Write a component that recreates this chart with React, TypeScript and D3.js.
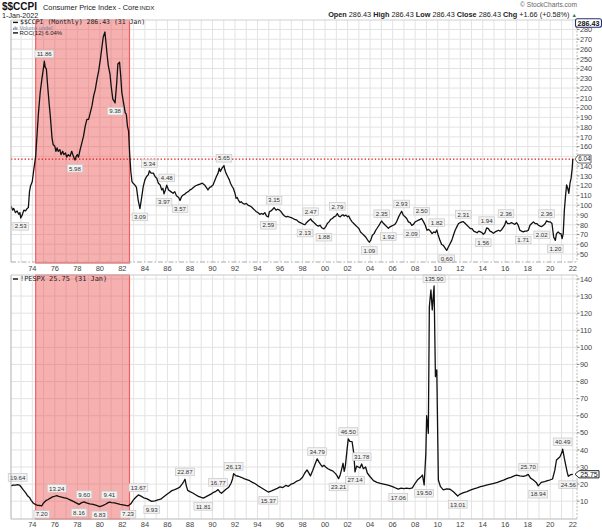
import React from 'react';
import * as d3 from 'd3';

// ROC(12) of $$CCPI (percent), [decimal year, value]
const rocSeries: [number, number][] = [
  [1972.1, 3.25], [1972.25, 3.0], [1972.35, 3.1], [1972.5, 2.85], [1972.65, 2.95], [1972.8, 2.75], [1972.9, 2.85],
  [1972.97, 2.53], [1973.1, 2.7], [1973.25, 3.0], [1973.4, 2.95], [1973.55, 3.1], [1973.65, 3.15], [1973.75, 4.1],
  [1973.85, 4.45], [1974.0, 4.7], [1974.15, 5.5], [1974.3, 6.2], [1974.45, 7.8], [1974.55, 8.8], [1974.7, 10.0],
  [1974.85, 10.8], [1975.0, 11.5], [1975.07, 11.86], [1975.15, 11.5], [1975.25, 11.4], [1975.35, 10.5], [1975.5, 9.3],
  [1975.6, 8.6], [1975.75, 7.3], [1975.85, 6.9], [1976.0, 6.8], [1976.1, 6.5], [1976.2, 6.7], [1976.3, 6.5],
  [1976.45, 6.6], [1976.55, 6.3], [1976.7, 6.5], [1976.8, 6.3], [1976.95, 6.4], [1977.05, 6.15], [1977.2, 6.3],
  [1977.35, 6.2], [1977.5, 6.5], [1977.6, 6.3], [1977.79, 5.98], [1977.9, 6.2], [1978.0, 6.3], [1978.1, 6.15],
  [1978.25, 6.6], [1978.4, 7.0], [1978.55, 7.4], [1978.7, 8.0], [1978.85, 8.4], [1979.0, 8.4], [1979.15, 8.8],
  [1979.3, 9.2], [1979.45, 9.8], [1979.6, 10.2], [1979.75, 10.8], [1979.9, 11.3], [1980.05, 12.0], [1980.2, 12.8],
  [1980.3, 13.3], [1980.45, 13.6], [1980.55, 12.9], [1980.65, 12.2], [1980.75, 11.6], [1980.9, 11.1], [1981.0, 10.4],
  [1981.15, 9.6], [1981.25, 9.5], [1981.35, 9.38], [1981.5, 10.6], [1981.6, 11.7], [1981.75, 11.8], [1981.85, 11.0],
  [1981.95, 10.0], [1982.1, 9.4], [1982.25, 8.8], [1982.35, 8.7], [1982.45, 8.0], [1982.55, 7.7], [1982.65, 6.3],
  [1982.75, 5.3], [1982.85, 4.7], [1982.95, 4.6], [1983.1, 4.5], [1983.25, 4.35], [1983.4, 3.6], [1983.56, 3.09],
  [1983.7, 3.7], [1983.85, 4.4], [1984.0, 4.8], [1984.15, 5.0], [1984.3, 5.1], [1984.4, 5.34], [1984.55, 5.2],
  [1984.75, 5.2], [1984.9, 5.0], [1985.05, 4.9], [1985.2, 4.6], [1985.35, 4.5], [1985.5, 4.2], [1985.6, 4.3],
  [1985.7, 3.97], [1985.82, 4.2], [1985.94, 4.48], [1986.1, 4.2], [1986.3, 4.1], [1986.5, 4.0], [1986.65, 4.1],
  [1986.8, 3.85], [1987.0, 3.75], [1987.12, 3.57], [1987.25, 3.8], [1987.4, 3.9], [1987.55, 3.95], [1987.7, 4.05],
  [1987.85, 4.1], [1988.0, 4.2], [1988.15, 4.25], [1988.3, 4.35], [1988.5, 4.45], [1988.7, 4.5], [1988.9, 4.55],
  [1989.1, 4.6], [1989.3, 4.5], [1989.45, 4.35], [1989.6, 4.2], [1989.75, 4.35], [1989.9, 4.4], [1990.05, 4.5],
  [1990.2, 4.75], [1990.35, 5.0], [1990.5, 5.2], [1990.6, 5.5], [1990.7, 5.3], [1990.85, 5.5], [1991.02, 5.65],
  [1991.1, 5.4], [1991.2, 5.2], [1991.35, 5.0], [1991.5, 4.8], [1991.6, 4.6], [1991.75, 4.4], [1991.85, 4.3],
  [1992.0, 4.0], [1992.1, 3.7], [1992.2, 3.75], [1992.3, 3.6], [1992.45, 3.45], [1992.55, 3.5], [1992.7, 3.4],
  [1992.85, 3.35], [1993.0, 3.4], [1993.15, 3.3], [1993.3, 3.25], [1993.45, 3.2], [1993.6, 3.1], [1993.75, 3.0],
  [1993.9, 2.9], [1994.05, 2.85], [1994.2, 2.75], [1994.35, 2.8], [1994.5, 2.75], [1994.65, 2.85], [1994.8, 2.65],
  [1994.96, 2.59], [1995.05, 2.9], [1995.2, 2.95], [1995.35, 3.05], [1995.47, 3.15], [1995.65, 3.0], [1995.8, 3.05],
  [1995.95, 3.0], [1996.1, 2.9], [1996.25, 2.75], [1996.4, 2.65], [1996.55, 2.6], [1996.7, 2.62], [1996.85, 2.58],
  [1997.0, 2.55], [1997.15, 2.5], [1997.3, 2.45], [1997.5, 2.4], [1997.65, 2.3], [1997.8, 2.25], [1997.95, 2.2],
  [1998.1, 2.15], [1998.22, 2.13], [1998.35, 2.25], [1998.5, 2.35], [1998.72, 2.47], [1998.85, 2.35], [1998.95, 2.3],
  [1999.1, 2.2], [1999.25, 2.1], [1999.4, 2.05], [1999.55, 2.1], [1999.7, 1.95], [1999.9, 1.88], [2000.05, 2.0],
  [2000.2, 2.2], [2000.35, 2.3], [2000.5, 2.45], [2000.65, 2.5], [2000.8, 2.6], [2000.95, 2.65], [2001.09, 2.79],
  [2001.2, 2.65], [2001.35, 2.6], [2001.5, 2.7], [2001.6, 2.72], [2001.7, 2.65], [2001.85, 2.7], [2002.0, 2.6],
  [2002.1, 2.65], [2002.25, 2.45], [2002.4, 2.3], [2002.55, 2.2], [2002.7, 2.1], [2002.85, 2.0], [2003.0, 1.9],
  [2003.15, 1.7], [2003.3, 1.6], [2003.45, 1.5], [2003.6, 1.4], [2003.75, 1.25], [2003.85, 1.15], [2003.93, 1.09],
  [2004.05, 1.2], [2004.2, 1.5], [2004.35, 1.6], [2004.5, 1.8], [2004.65, 1.95], [2004.8, 2.1], [2004.92, 2.25],
  [2005.03, 2.35], [2005.2, 2.2], [2005.35, 2.1], [2005.5, 2.0], [2005.62, 1.92], [2005.75, 2.0], [2005.9, 2.05],
  [2006.05, 2.1], [2006.2, 2.15], [2006.35, 2.3], [2006.5, 2.55], [2006.65, 2.75], [2006.8, 2.93], [2006.95, 2.7],
  [2007.1, 2.6], [2007.25, 2.5], [2007.4, 2.3], [2007.55, 2.25], [2007.7, 2.09], [2007.85, 2.15], [2008.0, 2.3],
  [2008.15, 2.35], [2008.3, 2.4], [2008.45, 2.45], [2008.58, 2.5], [2008.75, 2.3], [2008.9, 2.1], [2009.05, 1.8],
  [2009.2, 1.85], [2009.35, 1.75], [2009.5, 1.6], [2009.65, 1.7], [2009.8, 1.65], [2009.92, 1.82], [2010.05, 1.5],
  [2010.2, 1.2], [2010.35, 0.95], [2010.5, 0.9], [2010.65, 0.75], [2010.8, 0.6], [2010.95, 0.8], [2011.1, 1.0],
  [2011.25, 1.2], [2011.4, 1.5], [2011.55, 1.8], [2011.7, 2.0], [2011.85, 2.2], [2012.0, 2.25], [2012.15, 2.3],
  [2012.28, 2.31], [2012.45, 2.2], [2012.6, 2.1], [2012.75, 2.0], [2012.9, 1.9], [2013.05, 1.9], [2013.2, 1.75],
  [2013.35, 1.7], [2013.5, 1.65], [2013.65, 1.75], [2013.8, 1.7], [2013.95, 1.65], [2014.05, 1.56], [2014.2, 1.65],
  [2014.35, 1.94], [2014.5, 1.9], [2014.65, 1.75], [2014.8, 1.7], [2014.95, 1.62], [2015.1, 1.7], [2015.25, 1.75],
  [2015.4, 1.8], [2015.55, 1.75], [2015.7, 1.85], [2015.85, 2.0], [2015.95, 2.1], [2016.07, 2.36], [2016.2, 2.2],
  [2016.4, 2.2], [2016.55, 2.25], [2016.7, 2.2], [2016.85, 2.15], [2017.0, 2.25], [2017.15, 2.1], [2017.3, 1.8],
  [2017.45, 1.75], [2017.6, 1.71], [2017.75, 1.75], [2017.9, 1.75], [2018.05, 1.8], [2018.2, 2.1], [2018.35, 2.2],
  [2018.5, 2.3], [2018.65, 2.2], [2018.8, 2.2], [2018.95, 2.1], [2019.1, 2.05], [2019.24, 2.02], [2019.4, 2.1],
  [2019.55, 2.2], [2019.67, 2.36], [2019.85, 2.3], [2020.0, 2.3], [2020.15, 2.2], [2020.3, 1.4], [2020.45, 1.2],
  [2020.55, 1.6], [2020.7, 1.7], [2020.85, 1.6], [2020.95, 1.6], [2021.05, 1.3], [2021.15, 1.6], [2021.25, 3.0],
  [2021.35, 3.8], [2021.45, 4.5], [2021.55, 4.3], [2021.65, 4.0], [2021.75, 4.6], [2021.85, 4.9], [2021.95, 5.5],
  [2022.0, 6.04],
];

// !PESPX (S&P 500 P/E ratio), [decimal year, value]
const peSeries: [number, number][] = [
  [1972.1, 19.0], [1972.3, 19.4], [1972.5, 19.4], [1972.7, 19.64], [1972.9, 19.2], [1973.05, 18.0], [1973.2, 16.6],
  [1973.4, 15.0], [1973.6, 13.0], [1973.75, 12.2], [1973.9, 10.5], [1974.1, 8.8], [1974.3, 8.0], [1974.5, 7.6],
  [1974.65, 7.5], [1974.83, 7.2], [1975.0, 9.0], [1975.2, 10.3], [1975.4, 11.0], [1975.6, 11.8], [1975.8, 12.5],
  [1976.0, 12.9], [1976.17, 13.24], [1976.35, 12.8], [1976.6, 12.4], [1976.85, 12.0], [1977.1, 11.6], [1977.35, 10.8],
  [1977.6, 10.0], [1977.85, 9.2], [1978.15, 8.16], [1978.35, 9.0], [1978.6, 9.6], [1978.8, 9.0], [1979.1, 8.5],
  [1979.4, 8.2], [1979.7, 7.6], [1979.98, 6.83], [1980.25, 7.4], [1980.5, 8.2], [1980.7, 9.0], [1980.84, 9.41],
  [1981.05, 9.2], [1981.3, 9.0], [1981.55, 8.6], [1981.8, 8.2], [1982.05, 7.9], [1982.3, 7.5], [1982.5, 7.23],
  [1982.75, 8.5], [1982.95, 10.5], [1983.15, 12.0], [1983.42, 13.67], [1983.65, 13.0], [1983.9, 12.0],
  [1984.15, 11.5], [1984.4, 10.6], [1984.6, 9.93], [1984.9, 10.2], [1985.15, 10.8], [1985.4, 11.2], [1985.65, 12.5],
  [1985.9, 13.8], [1986.15, 15.0], [1986.4, 16.2], [1986.65, 16.8], [1986.9, 17.5], [1987.1, 18.2], [1987.3, 20.0],
  [1987.45, 21.5], [1987.56, 22.87], [1987.68, 19.0], [1987.8, 16.3], [1988.0, 15.6], [1988.25, 14.8],
  [1988.5, 13.8], [1988.75, 12.8], [1989.0, 12.2], [1989.19, 11.81], [1989.4, 12.5], [1989.65, 13.4],
  [1989.9, 14.3], [1990.1, 15.2], [1990.3, 15.8], [1990.5, 16.77], [1990.65, 15.4], [1990.8, 14.6], [1991.0, 15.8],
  [1991.2, 17.0], [1991.45, 18.2], [1991.65, 20.5], [1991.78, 23.0], [1991.88, 26.13], [1992.05, 25.0],
  [1992.3, 24.6], [1992.55, 24.0], [1992.8, 23.2], [1993.05, 22.6], [1993.3, 22.0], [1993.55, 21.0], [1993.8, 20.2],
  [1994.05, 19.0], [1994.3, 18.0], [1994.55, 17.0], [1994.8, 16.0], [1994.96, 15.37], [1995.25, 16.0],
  [1995.5, 16.8], [1995.75, 17.5], [1996.0, 18.4], [1996.25, 18.0], [1996.5, 19.2], [1996.75, 18.7], [1997.0, 20.0],
  [1997.25, 20.6], [1997.5, 21.8], [1997.75, 22.4], [1998.0, 24.0], [1998.2, 26.5], [1998.4, 28.3], [1998.6, 26.0],
  [1998.7, 24.8], [1998.9, 28.0], [1999.1, 31.5], [1999.3, 34.79], [1999.45, 33.0], [1999.6, 31.5], [1999.75, 30.2],
  [1999.9, 31.0], [2000.05, 30.0], [2000.25, 29.0], [2000.45, 28.3], [2000.7, 27.6], [2000.95, 26.0],
  [2001.1, 24.5], [2001.2, 23.21], [2001.35, 25.5], [2001.5, 29.5], [2001.6, 32.2], [2001.7, 27.5], [2001.8, 30.5],
  [2001.95, 40.0], [2002.06, 46.5], [2002.2, 45.0], [2002.4, 44.8], [2002.55, 38.0], [2002.66, 27.14],
  [2002.8, 30.5], [2002.95, 30.0], [2003.1, 29.5], [2003.25, 31.78], [2003.4, 29.0], [2003.6, 30.0],
  [2003.75, 26.5], [2004.0, 24.3], [2004.3, 22.0], [2004.6, 21.0], [2004.9, 20.5], [2005.2, 20.0], [2005.5, 19.5],
  [2005.8, 19.0], [2006.1, 18.2], [2006.3, 17.6], [2006.5, 17.06], [2006.75, 17.6], [2007.0, 17.4], [2007.25, 17.6],
  [2007.5, 17.4], [2007.75, 17.8], [2008.0, 20.5], [2008.2, 22.4], [2008.45, 23.8], [2008.65, 25.3],
  [2008.8, 19.5], [2008.95, 38.0], [2009.02, 60.0], [2009.1, 55.0], [2009.17, 49.7], [2009.26, 123.8],
  [2009.4, 133.6], [2009.52, 121.9], [2009.68, 135.9], [2009.8, 82.9], [2009.92, 86.8], [2010.06, 22.4],
  [2010.25, 18.5], [2010.5, 16.6], [2010.8, 17.2], [2011.1, 17.0], [2011.4, 15.5], [2011.78, 13.01],
  [2011.95, 14.0], [2012.3, 15.0], [2012.6, 15.6], [2012.9, 16.5], [2013.2, 17.2], [2013.5, 17.8], [2013.8, 18.5],
  [2014.1, 19.0], [2014.4, 19.5], [2014.7, 20.0], [2015.0, 20.5], [2015.3, 21.0], [2015.6, 21.8], [2015.9, 22.5],
  [2016.2, 23.4], [2016.5, 24.0], [2016.8, 24.8], [2017.0, 25.3], [2017.3, 24.8], [2017.6, 24.5], [2017.85, 25.0],
  [2018.04, 25.7], [2018.25, 23.5], [2018.5, 22.4], [2018.75, 21.0], [2018.93, 18.94], [2019.2, 21.0],
  [2019.5, 21.5], [2019.75, 22.0], [2019.95, 22.4], [2020.2, 23.0], [2020.4, 28.0], [2020.55, 34.1],
  [2020.7, 35.0], [2020.86, 36.0], [2021.0, 38.0], [2021.1, 40.49], [2021.25, 35.0], [2021.4, 30.2],
  [2021.5, 27.0], [2021.6, 24.56], [2021.8, 25.5], [2022.0, 25.75],
];

// annotation labels: [date, value, side] side 1 = above (peak), -1 = below (trough)
const rocNotes: [number, number, number][] = [
  [1972.97, 2.53, -1], [1975.07, 11.86, 1], [1977.79, 5.98, -1], [1981.35, 9.38, -1], [1983.56, 3.09, -1],
  [1984.4, 5.34, 1], [1985.94, 4.48, 1], [1985.7, 3.97, -1], [1987.12, 3.57, -1], [1991.02, 5.65, 1],
  [1995.47, 3.15, 1], [1994.96, 2.59, -1], [1998.72, 2.47, 1], [1998.22, 2.13, -1], [2001.09, 2.79, 1],
  [1999.9, 1.88, -1], [2003.93, 1.09, -1], [2005.03, 2.35, 1], [2005.62, 1.92, -1], [2006.8, 2.93, 1],
  [2007.7, 2.09, -1], [2008.58, 2.5, 1], [2009.92, 1.82, 1], [2010.8, 0.6, -1], [2012.28, 2.31, 1],
  [2014.35, 1.94, 1], [2014.05, 1.56, -1], [2016.07, 2.36, 1], [2017.6, 1.71, -1], [2019.67, 2.36, 1],
  [2019.24, 2.02, -1], [2020.45, 1.2, -1],
];
const peNotes: [number, number, number][] = [
  [1972.7, 19.64, 1], [1974.83, 7.2, -1], [1976.17, 13.24, 1], [1978.15, 8.16, -1], [1978.6, 9.6, 1],
  [1979.98, 6.83, -1], [1980.84, 9.41, 1], [1982.5, 7.23, -1], [1983.42, 13.67, 1], [1984.6, 9.93, -1],
  [1987.56, 22.87, 1], [1989.19, 11.81, -1], [1990.5, 16.77, 1], [1991.88, 26.13, 1], [1994.96, 15.37, -1],
  [1999.3, 34.79, 1], [2001.2, 23.21, -1], [2002.06, 46.5, 1], [2002.66, 27.14, -1], [2003.25, 31.78, 1],
  [2006.5, 17.06, -1], [2008.8, 19.5, -1], [2009.68, 135.9, 1], [2011.78, 13.01, -1], [2018.04, 25.7, 1],
  [2018.93, 18.94, -1], [2021.1, 40.49, 1], [2021.6, 24.56, -1],
];

const gridYears = d3.range(1973, 2023);
const labelYears = d3.range(1974, 2023, 2);
const priceTicks = d3.range(50, 290, 10);
const peTicks = d3.range(10, 150, 10);
const bandRange = [1974.3, 1982.63];
const lastPrice = 286.43;
const lastRoc = 6.04;
const lastPE = 25.75;

const SANS = "'Liberation Sans', Arial, sans-serif";
const MONO = "'DejaVu Sans Mono', 'Liberation Mono', monospace";

const L = 11, R = 577;
const T1 = 20, B1 = 262;
const T2 = 275, B2 = 519;

function Note({ x, y, side, text }: { x: number; y: number; side: number; text: string }) {
  const w = text.length * 3.25 + 2.6;
  const h = 7.6;
  const cy = side > 0 ? y - 7.3 : y + 8.3;
  return (
    <g>
      <rect x={x - w / 2} y={cy - h / 2} width={w} height={h} fill="#f2f2f2" stroke="#c8c8c8" strokeWidth={0.7} />
      <text x={x} y={cy + 2.2} textAnchor="middle" fontSize={6.1} fill="#333" fontFamily={SANS}>{text}</text>
    </g>
  );
}

export default function App() {
  const x = d3.scaleLinear().domain([1974, 2022]).range([32.3, 572.8]);
  const yRoc = d3.scaleLinear().domain([0, 14]).range([260.5, 260.5 - 14 * 16.8]);
  const yPrice = d3.scaleLinear().domain([50, 280]).range([254, 29.5]);
  const yPE = d3.scaleLinear().domain([0, 140]).range([518.3, 279]);

  const rocLine = d3.line<[number, number]>().x(d => x(d[0])).y(d => yRoc(d[1]))(rocSeries) || '';
  const peLine = d3.line<[number, number]>().x(d => x(d[0])).y(d => yPE(d[1]))(peSeries) || '';

  const bx0 = x(bandRange[0]);
  const bx1 = x(bandRange[1]);
  const grid = '#e3e3e3';
  const yRocLast = yRoc(lastRoc);
  const yPELast = yPE(lastPE);
  const yPriceLast = yPrice(lastPrice);

  return (
    <svg width={602} height={530} style={{ position: 'absolute', left: 0, top: 0, background: '#fff' }} fontFamily={SANS}>
      <defs>
        <clipPath id="c1"><rect x={L} y={T1} width={R - L} height={B1 - T1} /></clipPath>
        <clipPath id="c2"><rect x={L} y={T2} width={R - L} height={B2 - T2} /></clipPath>
      </defs>
      <rect x={0} y={0} width={602} height={530} fill="#fff" />

      {/* header */}
      <text x={2} y={9.5} fontSize={10} fontWeight="bold" fill="#111">$$CCPI</text>
      <text x={43} y={9.5} fontSize={7.4} fill="#222">Consumer Price Index - Core</text>
      <text x={139.5} y={9.5} fontSize={6.2} fill="#222">INDX</text>
      <text x={2} y={18} fontSize={7.2} fill="#222">1-Jan-2022</text>
      <text x={577} y={7} fontSize={6.6} fill="#666" textAnchor="end">© StockCharts.com</text>
      <text x={577} y={17} fontSize={7.3} fill="#222" textAnchor="end">
        <tspan fontWeight="bold">Open</tspan> 286.43 <tspan fontWeight="bold">High</tspan> 286.43{' '}
        <tspan fontWeight="bold">Low</tspan> 286.43 <tspan fontWeight="bold">Close</tspan> 286.43{' '}
        <tspan fontWeight="bold">Chg</tspan> +1.66 (+0.58%) <tspan fill="#2a8a2a" fontSize={5.5}>▲</tspan>
      </text>

      {/* top panel grid */}
      <g clipPath="url(#c1)">
        {gridYears.map(yr => (
          <line key={'g1' + yr} x1={x(yr)} x2={x(yr)} y1={T1} y2={B1} stroke={grid} strokeWidth={1} />
        ))}
        {priceTicks.map(p => (
          <line key={'h1' + p} x1={L} x2={R} y1={yPrice(p)} y2={yPrice(p)} stroke={grid} strokeWidth={1} />
        ))}
      </g>
      {/* bottom panel grid */}
      <g clipPath="url(#c2)">
        {gridYears.map(yr => (
          <line key={'g2' + yr} x1={x(yr)} x2={x(yr)} y1={T2} y2={B2} stroke={grid} strokeWidth={1} />
        ))}
        {peTicks.map(p => (
          <line key={'h2' + p} x1={L} x2={R} y1={yPE(p)} y2={yPE(p)} stroke={grid} strokeWidth={1} />
        ))}
      </g>

      {/* shaded band */}
      <rect x={bx0} y={T1} width={bx1 - bx0} height={B1 - T1 + 1} fill="rgb(238,80,80)" fillOpacity={0.45}
        stroke="rgb(240,96,96)" strokeWidth={1.2} />
      <rect x={bx0} y={T2} width={bx1 - bx0} height={B2 - T2} fill="rgb(238,80,80)" fillOpacity={0.45}
        stroke="rgb(240,96,96)" strokeWidth={1.2} />

      {/* red dotted current ROC line */}
      <line x1={L} x2={R - 2} y1={yRocLast} y2={yRocLast} stroke="#e01818" strokeWidth={1.3} strokeDasharray="1.4 2" />

      {/* series lines */}
      <g clipPath="url(#c1)">
        <path d={rocLine} fill="none" stroke="#111" strokeWidth={1.3} strokeLinejoin="round" />
      </g>
      <g clipPath="url(#c2)">
        <path d={peLine} fill="none" stroke="#111" strokeWidth={1.3} strokeLinejoin="round" />
      </g>

      {/* annotations */}
      {rocNotes.map((n, i) => (
        <Note key={'rn' + i} x={x(n[0])} y={yRoc(n[1])} side={n[2]} text={n[1].toFixed(2)} />
      ))}
      {peNotes.map((n, i) => (
        <Note key={'pn' + i} x={x(n[0])} y={yPE(n[1])} side={n[2]} text={n[1].toFixed(2)} />
      ))}

      {/* panel borders */}
      <line x1={L} x2={L} y1={T1} y2={B1} stroke="#b0b0b0" />
      <line x1={R} x2={R} y1={T1} y2={B1} stroke="#b8b8b8" strokeDasharray="2 1.5" />
      <line x1={L} x2={R} y1={T1} y2={T1} stroke="#d0d0d0" />
      <line x1={L} x2={R} y1={B1} y2={B1} stroke="#a8a8a8" strokeDasharray="5 2 1.5 2" />
      <line x1={L} x2={L} y1={T2} y2={B2} stroke="#b0b0b0" />
      <line x1={R} x2={R} y1={T2} y2={B2} stroke="#b8b8b8" strokeDasharray="2 1.5" />
      <line x1={L} x2={R} y1={T2} y2={T2} stroke="#c8c8c8" />
      <line x1={L} x2={R} y1={B2} y2={B2} stroke="#b8b8b8" />

      {/* legends */}
      <line x1={13} x2={18} y1={22.4} y2={22.4} stroke="#111" strokeWidth={1.4} />
      <text x={20} y={24.4} fontSize={6.5} fill="#222" fontFamily={MONO}>$$CCPI (Monthly) 286.43 (31 Jan)</text>
      <rect x={13} y={27.8} width={1.2} height={2.0} fill="#7890aa" />
      <rect x={14.6} y={26.6} width={1.2} height={3.2} fill="#7890aa" />
      <rect x={16.2} y={27.3} width={1.2} height={2.5} fill="#7890aa" />
      <text x={19.5} y={29.6} fontSize={5.4} fill="#6d86a5">Volume undef</text>
      <line x1={13} x2={18} y1={32.9} y2={32.9} stroke="#111" strokeWidth={1.4} />
      <text x={19.5} y={35.1} fontSize={6.0} fill="#222">ROC(12) 6.04%</text>

      <line x1={13} x2={18} y1={279} y2={279} stroke="#111" strokeWidth={1.4} />
      <text x={20} y={281.3} fontSize={6.9} fill="#222" fontFamily={MONO}>!PESPX 25.75 (31 Jan)</text>

      {/* x axis labels */}
      {labelYears.map(yr => (
        <text key={'xa' + yr} x={x(yr)} y={271} fontSize={7.5} fill="#444" textAnchor="middle">
          {String(yr % 100).padStart(2, '0')}
        </text>
      ))}
      {labelYears.map(yr => (
        <text key={'xb' + yr} x={x(yr)} y={527} fontSize={7.5} fill="#444" textAnchor="middle">
          {String(yr % 100).padStart(2, '0')}
        </text>
      ))}

      {/* right axes */}
      {priceTicks.filter(p => Math.abs(yPrice(p) - yRocLast) > 4.5).map(p => (
        <g key={'pt' + p}>
          <line x1={R} x2={R + 2.5} y1={yPrice(p)} y2={yPrice(p)} stroke="#888" />
          <text x={580} y={yPrice(p) + 2.8} fontSize={7.3} fill="#444">{p}</text>
        </g>
      ))}
      {peTicks.map(p => (
        <g key={'et' + p}>
          <line x1={R} x2={R + 2.5} y1={yPE(p)} y2={yPE(p)} stroke="#888" />
          <text x={580} y={yPE(p) + 2.6} fontSize={7.3} fill="#444">{p}</text>
        </g>
      ))}

      {/* last value boxes */}
      <rect x={575.5} y={yPriceLast - 4.4} width={26} height={8.4} rx={2} fill="#fff" stroke="#26306e" strokeWidth={1.1} />
      <text x={588.5} y={yPriceLast + 2.4} fontSize={7.2} fontWeight="bold" fill="#111" textAnchor="middle">{lastPrice.toFixed(2)}</text>

      <path d={`M${R - 2},${yRocLast} L${R + 1},${yRocLast - 4} L${591},${yRocLast - 4} L${591},${yRocLast + 4} L${R + 1},${yRocLast + 4} Z`}
        fill="#fff" stroke="#555" strokeWidth={0.9} />
      <text x={584.5} y={yRocLast + 2.2} fontSize={6.3} fill="#222" textAnchor="middle">{lastRoc.toFixed(2)}</text>

      <path d={`M${R - 2},${yPELast} L${R + 2},${yPELast - 3.6} L${599},${yPELast - 3.6} L${599},${yPELast + 3.6} L${R + 2},${yPELast + 3.6} Z`}
        fill="#fff" stroke="#222" strokeWidth={1} />
      <text x={589} y={yPELast + 2.4} fontSize={7.0} fill="#111" textAnchor="middle">{lastPE.toFixed(2)}</text>
    </svg>
  );
}
